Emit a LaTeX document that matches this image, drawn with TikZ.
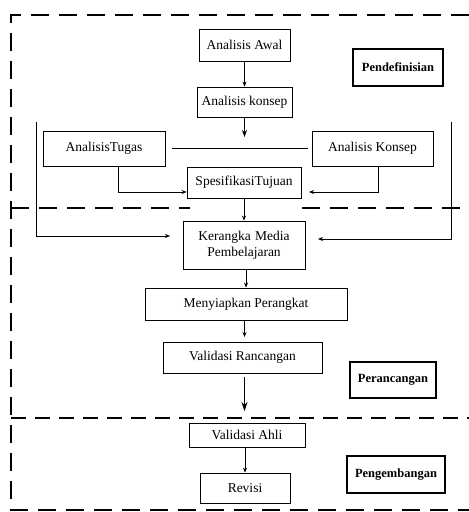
\documentclass[tikz,border=0pt]{standalone}
\usepackage{fontspec}
\setmainfont{Liberation Serif}
\usetikzlibrary{arrows.meta}
\begin{document}
\begin{tikzpicture}[x=1pt,y=-1pt,
  box/.style={draw,line width=0.8pt,inner sep=0pt,font=\fontsize{13.5}{15.5}\selectfont,align=center},
  phase/.style={draw,line width=1.4pt,inner sep=0pt,font=\fontsize{12.5}{14}\selectfont\bfseries},
  conn/.style={line width=0.7pt},
  arr/.style={conn,-{Stealth[length=5pt,width=4pt]}},
  bigarr/.style={line width=1pt,-{Stealth[length=9pt,width=6pt]}},
  dashbox/.style={line width=2.5pt,dash pattern=on 18pt off 10pt}]
\useasboundingbox (0,0) rectangle (469,512);
% dashed frame
\coordinate (tl) at (11,15);
\coordinate (tr) at (469,15);
\coordinate (bl) at (11,510);
\coordinate (br) at (469,510);
\draw[dashbox] (tr) -- (tl) -- (bl) -- (br);
\coordinate (m1a) at (11,208);
\coordinate (m1b) at (190,208);
\coordinate (m1c) at (302,208);
\coordinate (m1d) at (469,208);
\draw[dashbox] (m1a) -- (m1b);
\draw[dashbox] (m1c) -- (m1d);
\coordinate (m2a) at (11,418);
\coordinate (m2b) at (469,418);
\draw[dashbox,dash pattern=on 15pt off 9pt] (m2a) -- (m2b);
% nodes
\node[box,minimum width=91pt,minimum height=32pt] (aa) at (244.5,45) {Analisis Awal};
\node[box,minimum width=95pt,minimum height=30pt] (ak) at (244.5,102) {Analisis konsep};
\node[box,minimum width=122pt,minimum height=35pt] (at) at (104,148.5) {AnalisisTugas};
\node[box,minimum width=121pt,minimum height=35pt] (aK) at (372.5,148.5) {Analisis Konsep};
\node[box,minimum width=114pt,minimum height=31pt] (st) at (244,182.5) {SpesifikasiTujuan};
\node[box,minimum width=122pt,minimum height=48pt,text width=110pt] (km) at (244,245) {Kerangka Media\\Pembelajaran};
\node[box,minimum width=202pt,minimum height=32pt] (mp) at (246,304) {Menyiapkan Perangkat};
\node[box,minimum width=159pt,minimum height=31pt] (vr) at (242.5,357.5) {Validasi Rancangan};
\node[box,minimum width=116pt,minimum height=24pt] (va) at (247,435) {Validasi Ahli};
\node[box,minimum width=90pt,minimum height=30pt] (rv) at (245,488) {Revisi};
\node[phase,minimum width=90pt,minimum height=37pt] (p1) at (398,67.5) {Pendefinisian};
\node[phase,minimum width=86pt,minimum height=36pt] (p2) at (393,380) {Perancangan};
\node[phase,minimum width=98pt,minimum height=37pt] (p3) at (396,474.5) {Pengembangan};
% connectors
\draw[arr] (aa.south) -- (ak.north);
\coordinate (ak2) at (244.5,137);
\draw[line width=0.8pt,-{Stealth[length=7pt,width=5pt]}] (ak.south) -- (ak2);
\coordinate (hl) at (172,148);
\coordinate (hr) at (308,148);
\draw[conn] (hl) -- (hr);
\coordinate (lt) at (36,122);
\coordinate (lb) at (36,236);
\coordinate (le) at (170,236);
\draw[arr] (lt) -- (lb) -- (le);
\coordinate (rt) at (451,122);
\coordinate (rb) at (451,239);
\coordinate (re) at (318,239);
\draw[arr] (rt) -- (rb) -- (re);
\coordinate (atb) at (118,192);
\draw[arr] (at.south -| atb) |- (st.west |- atb);
\coordinate (akb) at (378,192);
\coordinate (ste) at (309,192);
\draw[arr] (aK.south -| akb) |- (ste);
\draw[arr] (st.south) -- (km.north);
\draw[arr] (km.south -| mp.north) -- (mp.north);
\coordinate (mpe) at (244.5,337);
\draw[arr] (mp.south -| mpe) -- (mpe);
\coordinate (vrs) at (244.5,377);
\coordinate (vre) at (244.5,411);
\draw[bigarr] (vrs) -- (vre);
\draw[arr] (va.south -| rv.north) -- (rv.north);
\end{tikzpicture}
\end{document}
